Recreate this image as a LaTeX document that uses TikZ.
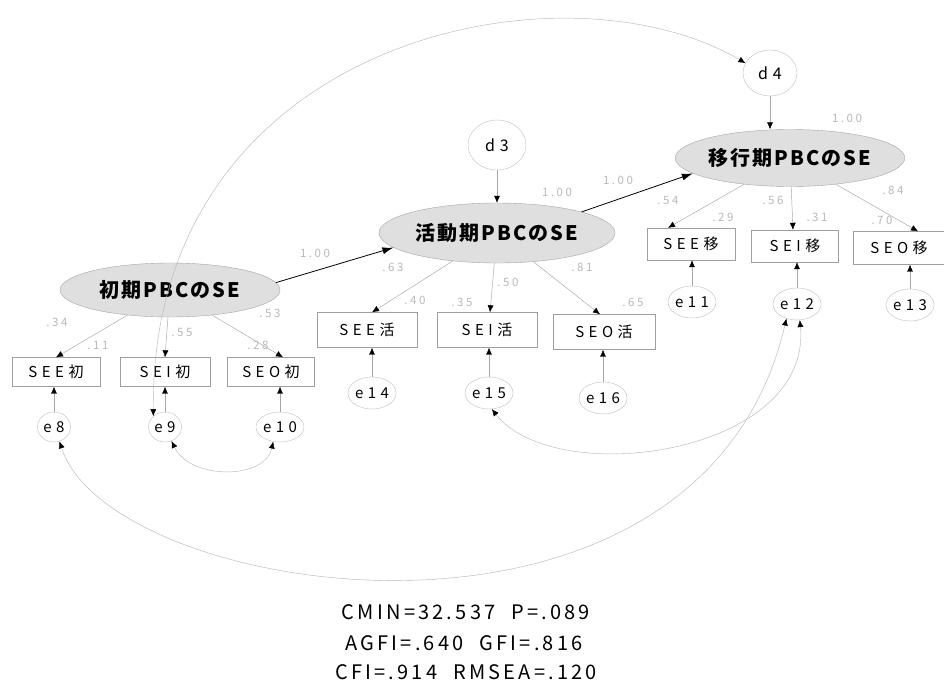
\documentclass[tikz,border=0pt]{standalone}
\usepackage{fontspec}
\setmainfont{Noto Sans CJK JP}
\newfontfamily\jpbox[LetterSpace=30]{Noto Sans CJK JP}
\newfontfamily\jplat[LetterSpace=10]{Noto Sans CJK JP}
\newfontfamily\jplab[LetterSpace=22]{Noto Sans CJK JP}
\newfontfamily\jpfit[LetterSpace=16]{Noto Sans CJK JP}
\usetikzlibrary{shapes.geometric,arrows.meta,calc}
\tikzset{
  lat/.style={ellipse, draw=gray!70, fill=gray!25, inner sep=0pt,
    font={\jplat\bfseries\fontsize{20pt}{20pt}\selectfont}},
  obs/.style={rectangle, draw=gray!75, inner sep=0pt,
    font={\jpbox\fontsize{15pt}{15pt}\selectfont}},
  err/.style={ellipse, draw=gray!50, inner sep=0pt, minimum width=33pt, minimum height=30pt,
    font={\jpbox\fontsize{15pt}{15pt}\selectfont}},
  dist/.style={ellipse, draw=gray!50, inner sep=0pt,
    font={\jpbox\fontsize{16pt}{16pt}\selectfont}},
  lab/.style={text=gray!55, inner sep=0pt, font={\jplab\fontsize{11.5pt}{11.5pt}\selectfont}},
  fitline/.style={inner sep=0pt, font={\jpfit\fontsize{20pt}{20pt}\selectfont}},
  spath/.style={draw=black, line width=0.8pt, -{Latex[length=11pt,width=7pt]}},
  meas/.style={draw=gray!70, line width=0.45pt, -{Latex[length=7pt,width=6pt,color=black]}},
  cov/.style={draw=gray!55, line width=0.45pt,
    {Latex[length=7pt,width=6pt,color=black]}-{Latex[length=7pt,width=6pt,color=black]}}
}
\begin{document}
\begin{tikzpicture}[x=1pt,y=-1pt]
\useasboundingbox[fill=white] (0,0) rectangle (944,689);

% latent variables
\node[lat, minimum width=220pt, minimum height=54pt] (lat1) at (170,290) {初期PBCのSE};
\node[lat, minimum width=236pt, minimum height=60pt] (lat2) at (497,233) {活動期PBCのSE};
\node[lat, minimum width=226pt, minimum height=57pt] (lat3) at (790,158) {移行期PBCのSE};

% disturbances
\node[dist, minimum width=58pt, minimum height=50pt] (d3) at (497,145) {d3};
\node[dist, minimum width=54pt, minimum height=46pt] (d4) at (770,73) {d4};

% observed
\node[obs, minimum width=88pt, minimum height=29pt] (see1) at (56,372) {SEE初};
\node[obs, minimum width=90pt, minimum height=29pt] (sei1) at (165,372) {SEI初};
\node[obs, minimum width=87pt, minimum height=29pt] (seo1) at (271,372) {SEO初};
\node[obs, minimum width=100pt, minimum height=35pt] (see2) at (367,330) {SEE活};
\node[obs, minimum width=100pt, minimum height=35pt] (sei2) at (487,330) {SEI活};
\node[obs, minimum width=102pt, minimum height=35pt] (seo2) at (604,332) {SEO活};
\node[obs, minimum width=88pt, minimum height=32pt] (see3) at (691,244) {SEE移};
\node[obs, minimum width=87pt, minimum height=32pt] (sei3) at (795,246) {SEI移};
\node[obs, minimum width=92pt, minimum height=33pt] (seo3) at (899,248) {SEO移};

% errors
\node[err] (e8) at (54,427) {e8};
\node[err] (e9) at (165,427) {e9};
\node[err] (e10) at (280,427) {e10};
\node[err, minimum width=36pt, minimum height=32pt] (e14) at (372,393) {e14};
\node[err, minimum width=36pt, minimum height=32pt] (e15) at (489,393) {e15};
\node[err, minimum width=36pt, minimum height=32pt] (e16) at (603,398) {e16};
\node[err, minimum width=35pt, minimum height=32pt] (e11) at (692,302) {e11};
\node[err, minimum width=35pt, minimum height=32pt] (e12) at (797,304) {e12};
\node[err, minimum width=35pt, minimum height=32pt] (e13) at (910,305) {e13};

% structural paths
\draw[spath] (lat1.4) -- (lat2.188);
\draw[spath] (lat2.14) -- (lat3.189);
\draw[meas] (d3) -- (lat2);
\draw[meas] (d4) -- (d4 |- lat3.north);

% loadings
\draw[meas] (lat1) -- (see1.north);
\draw[meas] (lat1) -- (sei1.north);
\draw[meas] (lat1) -- ([xshift=12pt]seo1.north);
\draw[meas] (lat2) -- ([xshift=5pt]see2.north);
\draw[meas] (lat2) -- ([xshift=3pt]sei2.north);
\draw[meas] (lat2) -- ([xshift=-4pt]seo2.north);
\draw[meas] (lat3) -- ([xshift=-23pt]see3.north);
\draw[meas] (lat3) -- ([xshift=-2pt]sei3.north);
\draw[meas] (lat3) -- ([xshift=19pt]seo3.north);

% error paths
\draw[meas] (e8) -- (e8 |- see1.south);
\draw[meas] (e9) -- (e9 |- sei1.south);
\draw[meas] (e10) -- (e10 |- seo1.south);
\draw[meas] (e14) -- (e14 |- see2.south);
\draw[meas] (e15) -- (e15 |- sei2.south);
\draw[meas] (e16) -- (e16 |- seo2.south);
\draw[meas] (e11) -- (e11 |- see3.south);
\draw[meas] (e12) -- (e12 |- sei3.south);
\draw[meas] (e13) -- (e13 |- seo3.south);

% covariances
\draw[cov] (e9.137) .. controls (150,40) and (560,-45) .. (d4.158);
\draw[cov] (e9.-65) .. controls (190,480) and (265,480) .. (e10.-115);
\draw[cov] (e15.-80) .. controls (555,490) and (812,455) .. (e12.-80);
\draw[cov] (e8.-69) .. controls (110,600) and (700,690) .. (e12.-126);

% labels
\node[lab] (l1) at (315,253) {1.00};
\node[lab] (l2) at (557,192) {1.00};
\node[lab] (l3) at (618,180) {1.00};
\node[lab] (l4) at (847,118) {1.00};
\node[lab] (l5) at (57,322) {.34};
\node[lab] (l6) at (98,345) {.11};
\node[lab] (l7) at (182,332) {.55};
\node[lab] (l8) at (270,313) {.53};
\node[lab] (l9) at (258,345) {.28};
\node[lab] (l10) at (393,267) {.63};
\node[lab] (l11) at (415,300) {.40};
\node[lab] (l12) at (508,282) {.50};
\node[lab] (l13) at (462,302) {.35};
\node[lab] (l14) at (582,267) {.81};
\node[lab] (l15) at (633,302) {.65};
\node[lab] (l16) at (668,200) {.54};
\node[lab] (l17) at (723,217) {.29};
\node[lab] (l18) at (773,200) {.56};
\node[lab] (l19) at (817,217) {.31};
\node[lab] (l20) at (893,190) {.84};
\node[lab] (l21) at (882,220) {.70};

% fit indices
\node[fitline] (f1) at (466,612) {CMIN=32.537\hspace{16pt}P=.089};
\node[fitline] (f2) at (464,643) {AGFI=.640\hspace{16pt}GFI=.816};
\node[fitline] (f3) at (466,672) {CFI=.914\hspace{16pt}RMSEA=.120};
\end{tikzpicture}
\end{document}
